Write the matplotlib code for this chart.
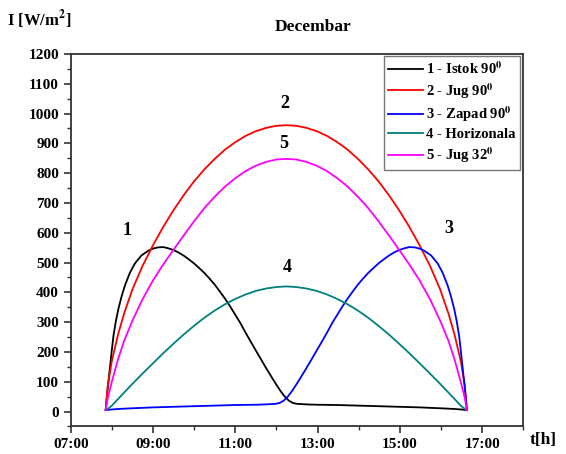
import matplotlib
matplotlib.use("Agg")
import matplotlib.pyplot as plt
from matplotlib.ticker import MultipleLocator

plt.rcParams['font.family'] = ['Liberation Serif', 'DejaVu Serif']
plt.rcParams['font.weight'] = 'bold'
plt.rcParams['mathtext.fontset'] = 'stix'

# time in decimal hours (symmetric grid for the south / horizontal series)
time_h = [7.85, 7.90, 8.00, 8.15, 8.30, 8.50, 8.75, 9.00, 9.25, 9.50, 9.75, 10.00,
          10.25, 10.50, 10.75, 11.00, 11.25, 11.50, 11.75, 12.00, 12.24,
          12.48, 12.73, 12.98, 13.23, 13.48, 13.73, 13.98, 14.23, 14.48, 14.73,
          14.98, 15.23, 15.48, 15.73, 15.98, 16.18, 16.33, 16.48, 16.58, 16.63]

jug_90 = [5, 86, 170, 258, 330, 410, 490, 558, 620, 676, 727, 773,
          813, 848, 879, 904, 925, 941, 952, 959, 961,
          959, 952, 941, 925, 904, 879, 848, 813, 773, 727,
          676, 620, 558, 490, 410, 330, 258, 170, 86, 5]
horizontala = [5, 9, 20, 42, 64, 93, 128, 162, 196, 228, 259, 288,
               315, 339, 360, 378, 393, 405, 413, 418, 420,
               418, 413, 405, 393, 378, 360, 339, 315, 288, 259,
               228, 196, 162, 128, 93, 64, 42, 20, 9, 5]
jug_32 = [5, 45, 100, 175, 238, 305, 378, 440, 494, 543, 592, 639,
          683, 721, 755, 783, 807, 825, 838, 846, 848,
          846, 838, 825, 807, 783, 755, 721, 683, 639, 592,
          543, 494, 440, 378, 305, 238, 175, 100, 45, 5]

# east wall (Istok) on its own time grid
time_istok = [7.85, 7.88, 7.92, 7.96, 8.00, 8.04, 8.10, 8.16, 8.24, 8.32,
              8.44, 8.56, 8.72, 8.89, 9.00, 9.12, 9.25, 9.37, 9.50, 9.62,
              9.75, 9.87, 10.00, 10.12, 10.25, 10.37, 10.50, 10.62, 10.75, 10.87,
              11.00, 11.12, 11.25, 11.37, 11.50, 11.75,
              11.90, 12.00, 12.10, 12.20, 12.30, 12.40, 12.50, 12.75, 13.00, 13.50,
              14.00, 14.50, 15.00, 15.50, 16.00, 16.30, 16.50, 16.63]
istok_90 = [5, 50, 105, 155, 207, 255, 305, 345, 388, 424,
            466, 497, 524, 540, 547, 551, 552, 548, 542, 534,
            523, 511, 497, 482, 465, 447, 426, 404, 379, 354,
            325, 298, 265, 236, 205, 146,
            112, 90, 69, 51, 37, 29, 26, 24, 23, 22,
            20, 18, 16, 14, 11, 9, 7, 5]

# west wall (Zapad) on its own time grid
time_zapad = [7.85, 7.98, 8.18, 8.48, 8.98, 9.48, 9.98, 10.48, 10.98, 11.48,
              11.73, 11.98, 12.08, 12.18, 12.28, 12.38, 12.48, 12.58, 12.73, 12.98,
              13.11, 13.23, 13.36, 13.48, 13.61, 13.73, 13.86, 13.98, 14.11, 14.23,
              14.36, 14.48, 14.61, 14.73, 14.86, 14.98,
              15.11, 15.23, 15.36, 15.48, 15.59, 15.76, 15.92, 16.04, 16.16, 16.24,
              16.32, 16.38, 16.44, 16.48, 16.52, 16.56, 16.60, 16.63]
zapad_90 = [5, 7, 9, 11, 14, 16, 18, 20, 22, 23,
            24, 26, 29, 37, 51, 69, 90, 112, 146, 205,
            236, 265, 298, 325, 354, 379, 404, 426, 447, 465,
            482, 497, 511, 523, 534, 542,
            548, 552, 551, 547, 540, 524, 497, 466, 424, 388,
            345, 305, 255, 207, 155, 105, 50, 5]

series = [
    ('1 - Istok 90$^{\\mathbf{0}}$', time_istok, istok_90, '#000000'),
    ('2 - Jug 90$^{\\mathbf{0}}$', time_h, jug_90, '#ff0000'),
    ('3 - Zapad 90$^{\\mathbf{0}}$', time_zapad, zapad_90, '#0000ff'),
    ('4 - Horizonala', time_h, horizontala, '#008080'),
    ('5 - Jug 32$^{\\mathbf{0}}$', time_h, jug_32, '#ff00ff'),
]

curve_labels = ['1', '2', '3', '4', '5']
label_t = [8.37, 12.21, 16.18, 12.26, 12.17]
label_i = [608, 1035, 615, 484, 901]

x_ticks = [7, 9, 11, 13, 15, 17]
x_tick_labels = ['07:00', '09:00', '11:00', '13:00', '15:00', '17:00']
y_ticks = [0, 100, 200, 300, 400, 500, 600, 700, 800, 900, 1000, 1100, 1200]

fig = plt.figure(figsize=(5.66, 4.54), dpi=100)
ax = fig.add_axes([0.1249, 0.0606, 0.7996, 0.8205])

for name, tt, vals, col in series:
    ax.plot(tt, vals, color=col, lw=1.3, label=name, solid_joinstyle='round')

for lab, tx, iy in zip(curve_labels, label_t, label_i):
    ax.text(tx, iy, lab, ha='center', va='center', fontsize=13, fontweight='bold')

ax.set_xlim(7, 18)
ax.set_ylim(-50, 1200)
ax.set_xticks(x_ticks)
ax.set_xticklabels(x_tick_labels)
ax.xaxis.set_minor_locator(MultipleLocator(1))
ax.set_yticks(y_ticks)
ax.yaxis.set_minor_locator(MultipleLocator(50))

ax.tick_params(which='major', length=5, width=1.2, labelsize=11, color='#333333')
ax.tick_params(which='minor', length=3, width=1.0, color='#333333')
for lbl in ax.get_xticklabels() + ax.get_yticklabels():
    lbl.set_fontweight('bold')
for sp in ax.spines.values():
    sp.set_linewidth(1.3)
    sp.set_color('#333333')

leg = ax.legend(loc='upper right', bbox_to_anchor=(0.993, 0.995), fontsize=10.5,
                frameon=True, fancybox=False, edgecolor='#555555',
                handlelength=2.4, handletextpad=0.2, labelspacing=0.28,
                borderpad=0.3, borderaxespad=0.0)
leg.get_frame().set_linewidth(1.0)
for txt in leg.get_texts():
    txt.set_fontweight('bold')

fig.text(0.553, 0.94, 'Decembar', ha='center', va='center', fontsize=12.5, fontweight='bold')
fig.text(0.013, 0.957, 'I [W/m$^{\\mathbf{2}}$]', ha='left', va='center', fontsize=12, fontweight='bold')
fig.text(0.935, 0.03, 't[h]', ha='left', va='center', fontsize=12.5, fontweight='bold')

fig.savefig('out.png', dpi=100)
